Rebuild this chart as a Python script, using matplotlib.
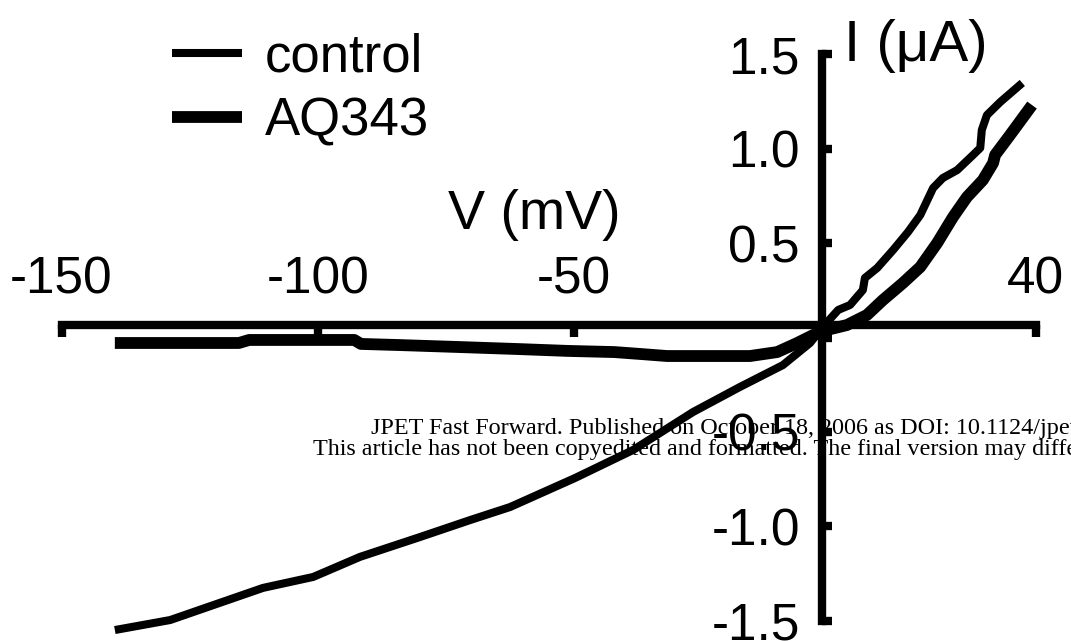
import matplotlib
matplotlib.use("Agg")
import matplotlib.pyplot as plt

plt.rcParams["font.family"] = ["Liberation Sans", "DejaVu Sans"]

# I-V curves: V in mV, I in uA
control_v = [-139.6, -128.8, -110.7, -100.9, -91.8, -80.1, -70.3, -62.5, -49.8,
             -38.5, -26.8, -17.7, -9.3, -4.0, -1.5, 1.5, 3.8, 6.3, 6.7, 9.1,
             12.2, 15.1, 17.5, 20.0, 21.9, 24.7, 27.8, 29.2, 29.5, 30.5, 33.1, 37.4]
control_i = [-1.548, -1.495, -1.325, -1.267, -1.161, -1.056, -0.966, -0.897, -0.743,
             -0.595, -0.394, -0.262, -0.146, -0.029, 0.056, 0.146, 0.172, 0.251,
             0.315, 0.368, 0.463, 0.558, 0.648, 0.791, 0.844, 0.886, 0.966, 1.003,
             1.098, 1.177, 1.246, 1.347]

aq343_v = [-139.6, -115.4, -113.4, -92.9, -91.6, -84.0, -72.9, -61.0, -51.2, -42.2,
           -37.2, -31.9, -15.7, -10.4, -6.5, -3.4, -0.7, 3.2, 7.1, 10.2, 14.1,
           17.5, 20.8, 23.9, 26.6, 29.7, 31.7, 32.1, 35.0, 39.3]
aq343_i = [-0.029, -0.029, -0.013, -0.013, -0.034, -0.040, -0.050, -0.061, -0.071,
           -0.077, -0.087, -0.098, -0.098, -0.077, -0.029, 0.013, 0.040, 0.066,
           0.119, 0.198, 0.288, 0.373, 0.500, 0.638, 0.743, 0.833, 0.923, 0.966,
           1.071, 1.230]

x_ticks = [-150, -100, -50, 40]
x_tick_labels = ["-150", "-100", "-50", "40"]
y_ticks = [-1.5, -1.0, -0.5, 0.0, 0.5, 1.0, 1.5]
y_tick_labels = ["-1.5", "-1.0", "-0.5", "", "0.5", "1.0", "1.5"]

watermark = [
    "JPET Fast Forward. Published on October 18, 2006 as DOI: 10.1124/jpet",
    "This article has not been copyedited and formatted. The final version may differ",
]

W, H = 1071, 641
fig = plt.figure(figsize=(W / 100, H / 100), dpi=100)
ax = fig.add_axes([0, 0, 1, 1])
ax.set_xlim(-162.0, 46.9)
ax.set_ylim(-1.606, 1.786)

ln_c, = ax.plot(control_v, control_i, color="black", lw=5.8,
                solid_capstyle="butt", label="control")
ln_a, = ax.plot(aq343_v, aq343_i, color="black", lw=8.5,
                solid_capstyle="butt", label="AQ343")

# axes crossing near the origin
ax.spines["left"].set_position(("data", -1.66))
ax.spines["bottom"].set_position(("data", 0.066))
ax.spines["top"].set_position(("data", 0.066))
ax.spines["top"].set_visible(False)
ax.spines["right"].set_visible(False)
ax.spines["left"].set_bounds(-1.5, 1.5)
ax.spines["bottom"].set_bounds(-150, 40)
for s in ("left", "bottom"):
    ax.spines[s].set_linewidth(6)

ax.set_xticks(x_ticks, x_tick_labels)
ax.set_yticks(y_ticks, y_tick_labels)
ax.tick_params(axis="x", direction="out", length=8.6, width=6, top=False,
               labeltop=True, labelbottom=False, pad=6.5, labelsize=37)
ax.tick_params(axis="y", direction="in", length=7, width=6, right=False,
               pad=16, labelsize=37)

ax.set_xlabel("V (mV)", fontsize=40)
ax.xaxis.set_label_coords(534 / W, 1 - 229 / H)
ax.xaxis.label.set_va("baseline")
ax.set_ylabel("I (μA)", rotation=0, fontsize=42)
ax.yaxis.set_label_coords(916 / W, 1 - 61 / H)
ax.yaxis.label.set_va("baseline")
ax.yaxis.label.set_ha("center")

ax.legend(handles=[ln_c, ln_a], loc="upper left",
          bbox_to_anchor=(172 / W, 1 - 32 / H), bbox_transform=fig.transFigure,
          frameon=False, fontsize=38, handlelength=1.33, handletextpad=0.43,
          labelspacing=0.27, borderpad=0, borderaxespad=0)

ax.text(371 / W, 1 - 434 / H, watermark[0], transform=ax.transAxes,
        family="Liberation Serif", fontsize=17.4, ha="left", va="baseline", zorder=1)
ax.text(313 / W, 1 - 455 / H, watermark[1], transform=ax.transAxes,
        family="Liberation Serif", fontsize=17.4, ha="left", va="baseline", zorder=1)

fig.savefig("out.png", dpi=100)
